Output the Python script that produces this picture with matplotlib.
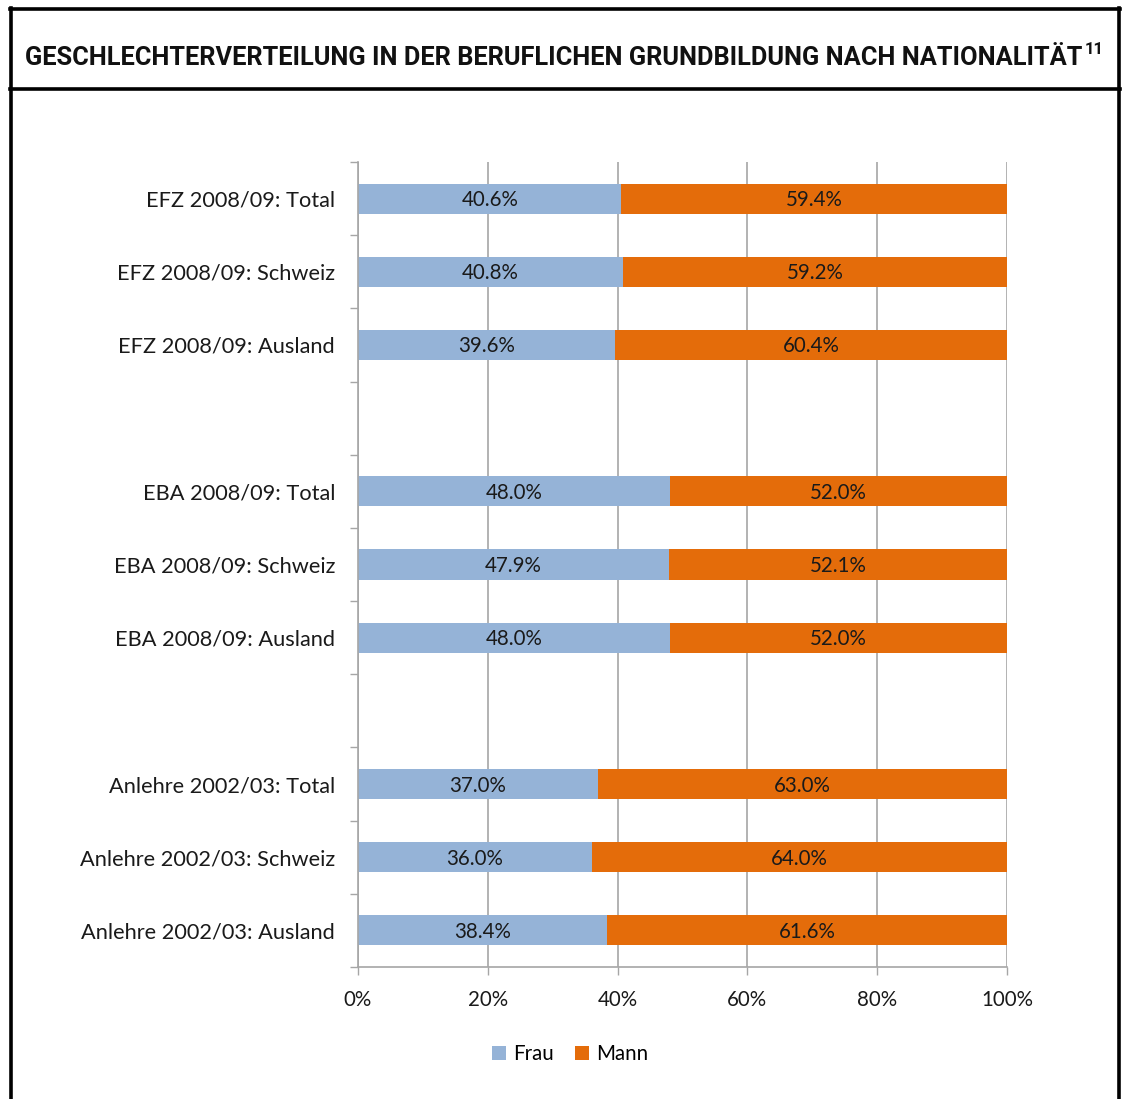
import numpy as np
import matplotlib
matplotlib.use('Agg')
import matplotlib.pyplot as plt
from matplotlib.lines import Line2D
from matplotlib.ticker import FixedLocator, PercentFormatter

# Gender split in vocational training by nationality (share in %)
categories = ['EFZ 2008/09: Total', 'EFZ 2008/09: Schweiz', 'EFZ 2008/09: Ausland', '',
              'EBA 2008/09: Total', 'EBA 2008/09: Schweiz', 'EBA 2008/09: Ausland', '',
              'Anlehre 2002/03: Total', 'Anlehre 2002/03: Schweiz', 'Anlehre 2002/03: Ausland']
frau = [40.6, 40.8, 39.6, np.nan, 48.0, 47.9, 48.0, np.nan, 37.0, 36.0, 38.4]
mann = [59.4, 59.2, 60.4, np.nan, 52.0, 52.1, 52.0, np.nan, 63.0, 64.0, 61.6]
series_names = ['Frau', 'Mann']
title = 'GESCHLECHTERVERTEILUNG IN DER BERUFLICHEN GRUNDBILDUNG NACH NATIONALITÄT'

c_frau = '#95B3D7'
c_mann = '#E46C0A'
grey = '#A6A6A6'
font = 'Lato'
fs = 14.8

W, H = 1124, 1099
fig = plt.figure(figsize=(W / 100, H / 100), dpi=100)
ax = fig.add_axes([358 / W, 1 - 967 / H, (1007 - 358) / W, (967 - 162) / H])

y = np.arange(len(categories))
frau = np.array(frau)
mann = np.array(mann)
b1 = ax.barh(y, frau, height=0.41, color=c_frau, label=series_names[0], zorder=2)
b2 = ax.barh(y, mann, left=frau, height=0.41, color=c_mann, label=series_names[1], zorder=2)

for yi, f, m in zip(y, frau, mann):
    if np.isnan(f):
        continue
    ax.text(f / 2, yi + 0.02, f'{f:.1f}%', ha='center', va='center', fontsize=fs,
            family=font, color='#1a1a1a', zorder=3)
    ax.text(f + m / 2, yi + 0.02, f'{m:.1f}%', ha='center', va='center', fontsize=fs,
            family=font, color='#1a1a1a', zorder=3)

ax.set_xlim(0, 100)
ax.set_ylim(len(categories) - 0.5, -0.5)
ax.set_xticks([0, 20, 40, 60, 80, 100])
ax.xaxis.set_major_formatter(PercentFormatter(decimals=0))
ax.set_yticks(y)
ax.set_yticklabels(categories)
ax.yaxis.set_minor_locator(FixedLocator(np.arange(-0.5, len(categories), 1.0)))
ax.tick_params(axis='y', which='major', length=0, pad=16.5)
ax.tick_params(axis='y', which='minor', length=6, width=1, color=grey, direction='out')
ax.tick_params(axis='x', length=5.5, width=1, color=grey, pad=11)
for lab in ax.get_xticklabels():
    lab.set_family(font)
    lab.set_fontsize(fs)
    lab.set_color('#1a1a1a')
for lab in ax.get_yticklabels():
    lab.set_family(font)
    lab.set_fontsize(15.7)
    lab.set_color('#1a1a1a')

ax.grid(axis='x', color=grey, linewidth=1.2, zorder=0)
ax.set_axisbelow(True)
for s in ['top', 'right']:
    ax.spines[s].set_visible(False)
for s in ['left', 'bottom']:
    ax.spines[s].set_color(grey)
    ax.spines[s].set_linewidth(1.2)

leg = fig.legend(handles=[b1, b2], loc='center', bbox_to_anchor=(570 / W, 1 - 1054 / H),
                 ncol=2, frameon=False, handlelength=0.7, handleheight=0.7,
                 handletextpad=0.35, columnspacing=1.0,
                 prop={'family': font, 'size': fs})

# frame around the whole figure and title box
lw = 2.6
def hline(y0, x0, x1):
    fig.add_artist(Line2D([x0 / W, x1 / W], [1 - y0 / H, 1 - y0 / H], color='black', lw=lw))
def vline(x0, y0, y1):
    fig.add_artist(Line2D([x0 / W, x0 / W], [1 - y0 / H, 1 - y1 / H], color='black', lw=lw))
hline(9, 10, 1120)
hline(89, 10, 1120)
vline(11, 8, H + 5)
vline(1119, 8, H + 5)

tfont = 'Roboto'
t = fig.text(25 / W, 1 - 58 / H, title, ha='left', va='center', fontsize=18,
             fontweight='bold', family=tfont, color='#111111')
fig.canvas.draw()
bb = t.get_window_extent()
# fit the title to the width of the original heading
t.set_fontsize(18 * (1083 - 25) / bb.width)
fig.canvas.draw()
bb = t.get_window_extent()
fig.text(bb.x1 / W + 0.002, 1 - 50 / H, '11', ha='left', va='center', fontsize=12,
         fontweight='bold', family=tfont, color='#111111')

fig.savefig('out.png', dpi=100)
